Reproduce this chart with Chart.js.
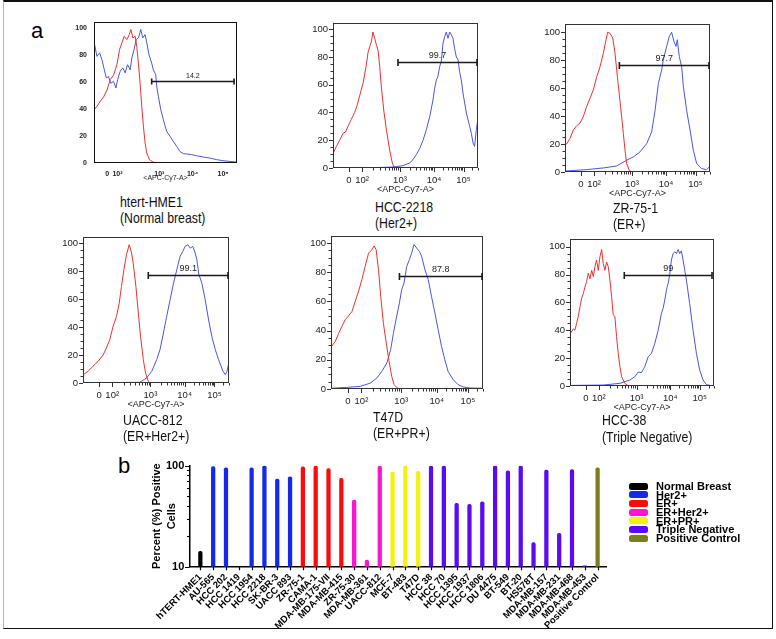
<!DOCTYPE html>
<html>
<head>
<meta charset="utf-8">
<script src="https://cdn.jsdelivr.net/npm/chart.js@4.4.1/dist/chart.umd.min.js"></script>
<style>
html,body{margin:0;padding:0;background:#fff;}
body{width:776px;height:639px;position:relative;overflow:hidden;font-family:"Liberation Sans",Arial,Helvetica,sans-serif;color:#000;}
#frame{position:absolute;left:3px;top:0;width:770px;height:629px;box-sizing:border-box;border-top:2px solid #111;border-right:1.5px solid #111;border-bottom:1.5px solid #111;border-left:1px solid #b5b5b5;}
.cbox{position:absolute;}
.cbox canvas{display:block;}
.t{position:absolute;white-space:nowrap;}
.ttl{position:absolute;white-space:nowrap;font-size:15px;line-height:18px;transform:scaleX(0.82);transform-origin:0 50%;color:#111;}
.leg{position:absolute;left:629px;width:19px;height:7px;border-radius:2.5px;}
.legt{position:absolute;left:656px;font-weight:bold;font-size:11px;line-height:12px;white-space:nowrap;}
</style>
</head>
<body>
<div id="frame"></div>
<script>
// ---------------- DATA: panel a (flow cytometry histograms) ----------------
const flowTickLabels = ['0', '10²', '10³', '10⁴', '10⁵'];
const flowTickChannels = [113, 205, 473, 713, 922];
const hme1TickChannels = [95, 168, 468, 706, 924];
const countTickValues = [0, 20, 40, 60, 80, 100];

const cellLineNames = ['htert-HME1', 'HCC-2218', 'ZR-75-1', 'UACC-812', 'T47D', 'HCC-38'];
const cellLineTypes = ['(Normal breast)', '(Her2+)', '(ER+)', '(ER+Her2+)', '(ER+PR+)', '(Triple Negative)'];
const gatePercents = ['14.2', '99.7', '97.7', '99.1', '87.8', '99'];
const gateStarts = [413, 459, 384, 458, 461, 386];
const gateEnds = [1003, 1019, 1019, 1019, 1020, 1010];
const gateLevels = [60.5, 76.7, 76.6, 77.4, 77.6, 79.7];

// [channel, % of max] — red = unstained/isotype control, blue = stained
const hme1Control = [[0,0],[1,53],[5,39.5],[21,42],[45,45.7],[69,49],[93,54],[116,61.7],[140,65],[164,72.8],[183,84],[200,89],[216,93.8],[235,91.4],[252,95],[264,98.8],[278,92.6],[295,93.8],[306,86.4],[318,74],[330,59],[342,42],[354,27],[366,14.8],[378,7.4],[397,2.5],[425,0.5],[520,0],[1024,0]];
const hme1Stained = [[0,0],[1,100],[6,88],[21,79],[40,81.5],[57,76.5],[74,69],[88,63],[104,64],[121,59],[140,60.5],[157,55.5],[169,61.7],[188,68],[207,70.4],[223,66.7],[240,72.8],[259,69],[271,77.8],[287,84],[302,91.4],[318,92.6],[335,98.8],[349,92.6],[366,95],[378,89],[394,80],[413,74],[425,69],[442,65.4],[449,56.8],[461,49.4],[478,39.5],[497,32],[520,23.5],[544,19.8],[568,16],[592,12.3],[615,8.6],[639,6.9],[663,6.7],[699,6.2],[734,5.4],[782,4.4],[829,3.7],[877,2.5],[924,1.7],[972,1.2],[1019,0.7],[1024,0.5]];
const hcc2218Control = [[0,0],[1,61],[5,11],[24,15.6],[47,20],[71,25],[89,26],[106,30],[129,35],[153,40],[170,45],[188,52],[212,61],[235,74],[247,83],[259,87.5],[271,91],[282,98],[294,93.5],[306,89],[318,85],[330,73],[341,59],[358,42],[377,27.6],[400,13],[419,3.6],[435,0],[1024,0]];
const hcc2218Stained = [[0,0.4],[100,0.3],[200,0.4],[300,0.3],[400,0.6],[447,1],[494,1.7],[541,3.6],[565,6],[588,9.6],[612,14],[636,20],[659,27.6],[683,37],[706,49],[718,57.5],[730,63.5],[741,66],[753,73],[765,77],[777,90],[789,94.7],[800,98],[812,93.5],[824,98],[836,96],[847,93.5],[859,86],[871,80],[883,78],[894,69.5],[906,63.5],[918,54],[942,39.6],[965,30],[977,25],[989,18],[1000,15.6],[1012,27.6],[1024,36]];
const zr751Control = [[0,0],[1,69],[5,20],[12,20],[35,24],[59,30],[82,33],[106,35],[129,39.5],[153,46.7],[176,52.6],[200,58.6],[224,68],[247,75],[271,85],[290,94.5],[301,99.8],[318,99],[337,95.7],[353,85],[370,68],[388,51],[400,39.5],[412,27.5],[424,15.6],[435,6],[454,1.2],[471,0],[1024,0]];
const zr751Stained = [[0,0],[1,3.6],[5,0.7],[153,1.7],[271,2.9],[365,4.3],[435,8.4],[483,10.8],[530,14.4],[577,20.3],[612,28.7],[636,44],[659,63],[671,68],[683,73],[694,80],[718,89.7],[737,97],[753,99.8],[770,93],[784,89.7],[793,94.5],[807,82.5],[824,75],[836,61],[859,44],[883,30],[906,15.6],[930,6],[965,2.4],[1000,1.7],[1019,3.6],[1024,3]];
const uacc812Control = [[0,0],[1,34.5],[5,6],[35,8.3],[70,12],[106,15.5],[141,20],[164,25],[188,31],[211,40.5],[235,47.6],[254,57],[270,69],[287,81],[305,91.7],[324,98.8],[341,92.9],[352,85.7],[371,69],[388,50],[404,33],[423,16.7],[439,7],[458,1.2],[470,0],[1024,0]];
const uacc812Stained = [[0,0.3],[200,0.3],[399,0.5],[446,3.6],[482,8.3],[517,16.7],[540,23.8],[564,35.7],[587,47.6],[611,59.5],[634,71],[658,81],[681,90.5],[700,94],[716,97.6],[735,98.8],[752,96.4],[770,97.6],[787,92.9],[799,88],[813,77],[822,75],[834,71],[857,59.5],[881,45],[904,33],[928,23.8],[951,16.7],[982,8.3],[998,6],[1010,8.3],[1024,15]];
const t47dControl = [[0,0],[1,70],[4,29],[29,32.6],[51,38],[74,43],[96,47.5],[118,50],[141,53],[163,60],[186,67],[208,75],[230,84],[253,93],[275,95.4],[291,98],[304,95.4],[320,81.7],[335,63.5],[353,45],[376,29],[393,17.8],[409,8.7],[425,3],[447,0.7],[465,0],[1024,0]];
const t47dStained = [[0,0.5],[107,1.1],[197,1.8],[264,4],[309,7.5],[342,12],[376,17.8],[402,27],[420,38],[443,50],[461,59],[476,68],[492,72.6],[510,84],[528,88.6],[543,93],[559,98.9],[577,96.6],[595,94.3],[610,91],[633,81.7],[655,75],[677,63.5],[700,52],[722,40.6],[745,29],[767,20],[789,12],[823,6.4],[856,3],[890,1.4],[935,0.7],[1024,0.5]];
const hcc38Control = [[0,0],[1,89],[5,37.8],[24,41],[35,40],[47,45],[59,50],[71,57],[83,63],[95,66.5],[106,71],[118,75],[130,81],[142,77],[154,83],[166,78.5],[177,85.6],[189,90.4],[201,83],[213,92.8],[225,98],[236,88],[248,83],[260,89],[272,85.6],[284,76],[296,64],[307,51],[319,50],[331,35.4],[343,23.4],[355,13.9],[367,6.7],[390,1.9],[414,0.2],[1024,0]];
const hcc38Stained = [[0,0.4],[236,0.7],[355,1.9],[426,4.3],[461,6.7],[485,10],[508,9.6],[532,13.9],[556,21],[579,23.4],[603,30.6],[627,40],[650,52],[662,55.7],[674,61.7],[686,69],[698,73.7],[709,80],[721,90.4],[733,95],[745,96.4],[757,95],[769,98],[780,95],[792,97],[804,90.4],[816,83],[828,76],[851,59],[875,40],[899,23.4],[922,11.5],[946,4.3],[970,1],[1005,0.2],[1024,0]];

const controlCurves = [hme1Control, hcc2218Control, zr751Control, uacc812Control, t47dControl, hcc38Control];
const stainedCurves = [hme1Stained, hcc2218Stained, zr751Stained, uacc812Stained, t47dStained, hcc38Stained];

// ---------------- DATA: panel b (bar chart) ----------------
const cellLines = ['hTERT-HME1','AU-565','HCC 202','HCC 1419','HCC 1954','HCC 2218','SK-BR-3','UACC 893','ZR-75-1','CAMA-1','MDA-MB-175-VII','MDA-MB-415','ZR-75-30','MDA-MB-361','UACC-812','MCF-7','BT-483','T47D','HCC 38','HCC 70','HCC 1395','HCC 1937','HCC 1806','DU 4475','BT-549','BT-20','HS578T','MDA-MB-157','MDA-MB-231','MDA-MB-468','MDA-MB-453','Positive Control'];
const percentPositive = [14.2, 97.8, 95.5, null, 95.5, 99.7, 73.7, 77.8, 97.7, 99, 93.6, 75, 45.7, 11.6, 99.1, 86.4, 99, 87.8, 99, 99, 42.5, 41.5, 44, 99.5, 89.1, 99.5, 17.3, 90.6, 21.4, 91.5, 10.2, 95.5];
const subtypeIndex = [0,1,1,1,1,1,1,1,2,2,2,2,3,3,3,4,4,4,5,5,5,5,5,5,5,5,5,5,5,5,5,6];
const subtypeNames = ['Normal Breast', 'Her2+', 'ER+', 'ER+Her2+', 'ER+PR+', 'Triple Negative', 'Positive Control'];
const subtypeColors = ['#000000', '#1428f0', '#ff0a0a', '#ff14d2', '#f2f20a', '#5a0af5', '#7d7d1e'];
const logTickValues = [10, 20, 30, 40, 50, 60, 70, 80, 90, 100];

// ---------------- layout ----------------
Chart.defaults.font.family = '"Liberation Sans", Arial, Helvetica, sans-serif';

const panelBoxes = [
  {L: 94, T: 22, R: 237, B: 163, yMax: 104.4},
  {L: 333, T: 23, R: 478, B: 168, yMax: 104.5},
  {L: 565, T: 24, R: 710, B: 172, yMax: 105.7},
  {L: 83, T: 237, R: 229, B: 383, yMax: 104.3},
  {L: 331, T: 236, R: 483, B: 389, yMax: 104.8},
  {L: 570, T: 239, R: 714, B: 386, yMax: 105.5}
];
const titlePos = [
  {x: 120, y1: 202, y2: 217.5},
  {x: 375, y1: 207, y2: 222.5},
  {x: 613, y1: 208, y2: 223.5},
  {x: 123, y1: 420, y2: 436},
  {x: 373, y1: 416.5, y2: 432.5},
  {x: 602, y1: 420, y2: 436.5}
];
const showAPC = [true, true, true, true, false, true];

function addDiv(cls, text, left, top, style) {
  const d = document.createElement('div');
  d.className = cls;
  if (text !== null) d.textContent = text;
  d.style.left = left + 'px';
  d.style.top = top + 'px';
  if (style) Object.assign(d.style, style);
  document.body.appendChild(d);
  return d;
}

addDiv('t', 'a', 31, 31 - 13, {fontSize: '22px', lineHeight: '26px'});
addDiv('t', 'b', 118, 466 - 13, {fontSize: '22px', lineHeight: '26px'});

function minorChannels(ch) {
  const out = [];
  for (let d = 1; d <= 4; d++) {
    const a = ch[d], w = d < 4 ? ch[d + 1] - ch[d] : ch[4] - ch[3];
    for (let k = 2; k <= 9; k++) {
      const v = a + Math.log10(k) * w;
      if (v <= 1024) out.push(v);
    }
  }
  return out;
}

function makeFlowDeco(i, chans, small) {
  return {
    id: 'flowDeco' + i,
    afterDatasetsDraw(chart) {
      const {ctx, chartArea: a, scales: {x, y}} = chart;
      ctx.save();
      ctx.strokeStyle = small ? '#111' : '#333';
      ctx.lineWidth = 1;
      ctx.strokeRect(a.left + 0.5, a.top + 0.5, a.right - a.left - 1, a.bottom - a.top - 1);
      if (!small) {
        ctx.beginPath();
        chans.forEach(v => { const p = Math.round(x.getPixelForValue(v)) + 0.5; ctx.moveTo(p, a.bottom); ctx.lineTo(p, a.bottom + 4); });
        minorChannels(chans).forEach(v => { const p = Math.round(x.getPixelForValue(v)) + 0.5; ctx.moveTo(p, a.bottom); ctx.lineTo(p, a.bottom + 2.5); });
        for (let v = 0; v <= 100; v += 5) {
          const p = Math.round(y.getPixelForValue(v)) + 0.5;
          const len = v % 20 === 0 ? 4 : 2.5;
          ctx.moveTo(a.left, p); ctx.lineTo(a.left - len, p);
        }
        ctx.stroke();
      }
      // gate
      const x0 = x.getPixelForValue(gateStarts[i]);
      const x1 = Math.min(x.getPixelForValue(gateEnds[i]), a.right - 1);
      const gy = Math.round(y.getPixelForValue(gateLevels[i])) + 0.5;
      const cap = small ? 3 : 3.5;
      ctx.strokeStyle = '#1a1a1a';
      ctx.lineWidth = 1.6;
      ctx.beginPath();
      ctx.moveTo(x0, gy); ctx.lineTo(x1, gy);
      ctx.moveTo(x0, gy - cap); ctx.lineTo(x0, gy + cap);
      ctx.moveTo(x1, gy - cap); ctx.lineTo(x1, gy + cap);
      ctx.stroke();
      ctx.fillStyle = '#222';
      ctx.font = (small ? '7px' : '9px') + ' "Liberation Sans", Arial, sans-serif';
      ctx.textAlign = 'center';
      ctx.textBaseline = 'middle';
      ctx.fillText(gatePercents[i], (x0 + x1) / 2, gy - (small ? 5.5 : 6.5));
      ctx.restore();
    }
  };
}

panelBoxes.forEach((b, i) => {
  const small = i === 0;
  const chans = small ? hme1TickChannels : flowTickChannels;
  const yW = 45, pt = 12, pr = 8, xH = 30;
  const div = addDiv('cbox', null, b.L - yW, b.T - pt, {
    width: (b.R - b.L + yW + pr) + 'px',
    height: (b.B - b.T + pt + xH) + 'px'
  });
  const cv = document.createElement('canvas');
  div.appendChild(cv);
  const tickFont = {size: small ? 7 : 9.5, weight: small ? 'bold' : 'normal'};
  new Chart(cv, {
    type: 'line',
    data: {
      datasets: [
        {data: controlCurves[i], borderColor: 'rgb(236,48,48)', borderWidth: 1, pointRadius: 0, tension: 0, fill: false},
        {data: stainedCurves[i], borderColor: 'rgb(72,86,226)', borderWidth: 1, pointRadius: 0, tension: 0, fill: false}
      ]
    },
    options: {
      animation: false,
      responsive: true,
      maintainAspectRatio: false,
      events: [],
      layout: {padding: {top: pt, right: pr, left: 0, bottom: 0}},
      plugins: {legend: {display: false}, tooltip: {enabled: false}},
      scales: {
        x: {
          type: 'linear', min: 0, max: 1024,
          afterBuildTicks: s => { s.ticks = chans.map(v => ({value: v})); },
          afterFit: s => { s.height = xH; },
          grid: {display: false, drawTicks: false},
          border: {display: false},
          ticks: {autoSkip: false, maxRotation: 0, minRotation: 0, padding: 6.8, color: '#222', font: tickFont,
                  callback: (v, idx) => flowTickLabels[idx]},
          title: {display: showAPC[i], text: '<APC-Cy7-A>', color: '#222', font: {size: small ? 7 : 9},
                  padding: {top: 0, bottom: small ? 10.8 : 3.1}}
        },
        y: {
          min: 0, max: b.yMax,
          afterBuildTicks: s => { s.ticks = countTickValues.map(v => ({value: v})); },
          afterFit: s => { s.width = yW; },
          grid: {display: false, drawTicks: false},
          border: {display: false},
          ticks: {autoSkip: false, padding: small ? 7 : 5, color: '#222', font: tickFont, callback: v => String(v)}
        }
      }
    },
    plugins: [makeFlowDeco(i, chans, small)]
  });
  const tp = titlePos[i];
  addDiv('ttl', cellLineNames[i], tp.x, tp.y1 - 9);
  addDiv('ttl', cellLineTypes[i], tp.x, tp.y2 - 9);
});

// ---------------- panel b ----------------
const barDiv = addDiv('cbox', null, 100, 440, {width: '530px', height: '199px'});
const barCanvas = document.createElement('canvas');
barDiv.appendChild(barCanvas);

const barTicks = {
  id: 'barTicks',
  afterDraw(chart) {
    const {ctx, chartArea: a, scales: {x, y}} = chart;
    ctx.save();
    ctx.strokeStyle = '#000';
    ctx.lineWidth = 1.2;
    ctx.beginPath();
    logTickValues.forEach(v => {
      const p = Math.round(y.getPixelForValue(v)) + 0.5;
      const len = (v === 10 || v === 100) ? 5 : 3;
      ctx.moveTo(a.left - 0.5, p); ctx.lineTo(a.left - len, p);
    });
    cellLines.forEach((c, i) => {
      const p = Math.round(x.getPixelForValue(i)) + 0.5;
      ctx.moveTo(p, a.bottom); ctx.lineTo(p, a.bottom + 3.5);
    });
    ctx.stroke();
    ctx.restore();
  }
};

new Chart(barCanvas, {
  type: 'bar',
  data: {
    datasets: subtypeNames.map((name, g) => ({
      label: name,
      data: cellLines.map((c, i) => ({x: i, y: percentPositive[i], g: subtypeIndex[i]}))
                     .filter(p => p.g === g && p.y !== null),
      backgroundColor: subtypeColors[g],
      barThickness: 3.6,
      borderRadius: {topLeft: 2, topRight: 2, bottomLeft: 0, bottomRight: 0},
      borderSkipped: 'start',
      grouped: false
    }))
  },
  options: {
    animation: false,
    responsive: true,
    maintainAspectRatio: false,
    events: [],
    layout: {padding: {top: 25.7, right: 23.3, left: 0, bottom: 0}},
    plugins: {legend: {display: false}, tooltip: {enabled: false}},
    scales: {
      x: {
        type: 'linear', min: -0.3, max: 31.2,
        afterBuildTicks: s => { s.ticks = cellLines.map((c, i) => ({value: i})); },
        afterFit: s => { s.height = 72.3; },
        grid: {display: false, drawTicks: false},
        border: {display: true, color: '#000', width: 1.5},
        ticks: {autoSkip: false, minRotation: 45, maxRotation: 45, padding: 5, color: '#000',
                font: {size: 9.5, weight: 'bold'}, callback: (v, idx) => cellLines[idx]}
      },
      y: {
        type: 'logarithmic', min: 10, max: 100,
        afterBuildTicks: s => { s.ticks = logTickValues.map(v => ({value: v})); },
        afterFit: s => { s.width = 90; },
        grid: {display: false, drawTicks: false},
        border: {display: true, color: '#000', width: 1.5},
        ticks: {autoSkip: false, padding: 5.7, color: '#000', font: {size: 11, weight: 'bold'},
                callback: v => (v === 10 || v === 100) ? String(v) : ''},
        title: {display: true, text: ['Percent (%) Positive', 'Cells'], color: '#000',
                font: {size: 11, weight: 'bold', lineHeight: 1.36}, padding: {top: 49.5, bottom: 0}}
      }
    }
  },
  plugins: [barTicks]
});

// legend
subtypeNames.forEach((name, g) => {
  const cy = 486 + 8.67 * g;
  addDiv('leg', null, 629, cy - 3.5, {background: subtypeColors[g]});
  addDiv('legt', name, 656, cy - 6);
});
</script>
</body>
</html>
